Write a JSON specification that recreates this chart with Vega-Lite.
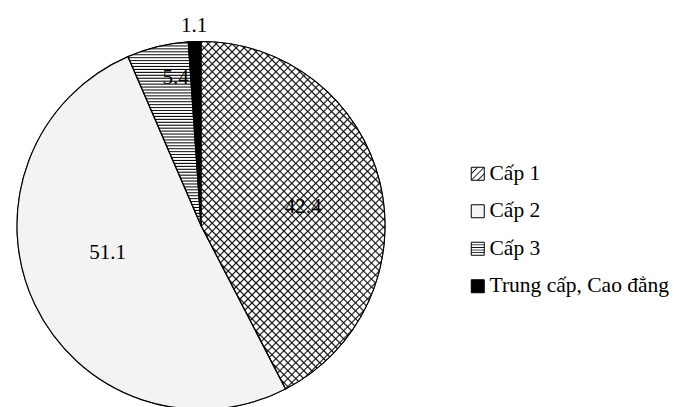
{
  "$schema": "https://vega.github.io/schema/vega-lite/v6.json",
  "width": 402,
  "height": 451,
  "padding": 0,
  "background": "white",
  "config": {"view": {"stroke": null}, "font": "Liberation Serif"},
  "data": {
    "values": [
      {"level": "Cấp 1", "value": 42.4},
      {"level": "Cấp 2", "value": 51.1},
      {"level": "Cấp 3", "value": 5.4},
      {"level": "Trung cấp, Cao đẳng", "value": 1.1}
    ]
  },
  "encoding": {
    "theta": {"field": "value", "type": "quantitative", "stack": true},
    "order": {"field": "level", "type": "nominal", "sort": "ascending"},
    "detail": {"field": "level", "type": "nominal"}
  },
  "layer": [
    {
      "mark": {"type": "arc", "outerRadius": 184, "stroke": "#000", "strokeWidth": 1},
      "encoding": {
        "color": {
          "field": "level",
          "type": "nominal",
          "scale": {
            "domain": ["Cấp 1", "Cấp 2", "Cấp 3", "Trung cấp, Cao đẳng"],
            "range": [
              {"expr": "{gradient: 'linear', x1: 0, y1: 0, x2: 1, y2: 1, stops: [{offset: 0, color: '#fff'}, {offset: 0.2, color: '#fff'}, {offset: 0.25, color: '#222'}, {offset: 0.3, color: '#fff'}, {offset: 0.45, color: '#fff'}, {offset: 0.5, color: '#222'}, {offset: 0.55, color: '#fff'}, {offset: 0.7, color: '#fff'}, {offset: 0.75, color: '#222'}, {offset: 0.8, color: '#fff'}, {offset: 1, color: '#fff'}]}"},
              "#f4f4f4",
              {"expr": "{gradient: 'linear', x1: 0, y1: 0, x2: 0, y2: 1, stops: [{offset: 0, color: '#fff'}, {offset: 0.14, color: '#fff'}, {offset: 0.2, color: '#000'}, {offset: 0.26, color: '#fff'}, {offset: 0.34, color: '#fff'}, {offset: 0.4, color: '#000'}, {offset: 0.46, color: '#fff'}, {offset: 0.54, color: '#fff'}, {offset: 0.6, color: '#000'}, {offset: 0.66, color: '#fff'}, {offset: 0.74, color: '#fff'}, {offset: 0.8, color: '#000'}, {offset: 0.86, color: '#fff'}, {offset: 1, color: '#fff'}]}"},
              "#000"
            ]
          },
          "legend": {
            "title": null,
            "orient": "none",
            "legendX": 467,
            "legendY": 163,
            "padding": 0,
            "symbolType": "square",
            "symbolSize": 169,
            "symbolStrokeColor": "#000",
            "symbolStrokeWidth": 1,
            "labelFont": "Liberation Serif",
            "labelFontSize": 21.5,
            "labelColor": "#000",
            "labelOffset": 1,
            "labelLimit": 0,
            "rowPadding": 14.5
          }
        }
      }
    },
    {
      "mark": {"type": "arc", "outerRadius": 184},
      "encoding": {
        "fill": {
          "condition": [
            {"test": "datum.level === 'Cấp 1'", "value": {"gradient": "linear", "x1": 0, "y1": 0, "x2": 0.633, "y2": 1.194, "stops": [
              {"offset": 0, "color": "#fff"}, {"offset": 0.003, "color": "#111"}, {"offset": 0.006, "color": "#fff"},
              {"offset": 0.015, "color": "#fff"}, {"offset": 0.018, "color": "#111"}, {"offset": 0.021, "color": "#fff"},
              {"offset": 0.03, "color": "#fff"}, {"offset": 0.033, "color": "#111"}, {"offset": 0.036, "color": "#fff"},
              {"offset": 0.045, "color": "#fff"}, {"offset": 0.048, "color": "#111"}, {"offset": 0.051, "color": "#fff"},
              {"offset": 0.06, "color": "#fff"}, {"offset": 0.063, "color": "#111"}, {"offset": 0.066, "color": "#fff"},
              {"offset": 0.075, "color": "#fff"}, {"offset": 0.078, "color": "#111"}, {"offset": 0.081, "color": "#fff"},
              {"offset": 0.09, "color": "#fff"}, {"offset": 0.093, "color": "#111"}, {"offset": 0.096, "color": "#fff"},
              {"offset": 0.105, "color": "#fff"}, {"offset": 0.108, "color": "#111"}, {"offset": 0.111, "color": "#fff"},
              {"offset": 0.12, "color": "#fff"}, {"offset": 0.123, "color": "#111"}, {"offset": 0.126, "color": "#fff"},
              {"offset": 0.135, "color": "#fff"}, {"offset": 0.138, "color": "#111"}, {"offset": 0.141, "color": "#fff"},
              {"offset": 0.15, "color": "#fff"}, {"offset": 0.153, "color": "#111"}, {"offset": 0.156, "color": "#fff"},
              {"offset": 0.165, "color": "#fff"}, {"offset": 0.168, "color": "#111"}, {"offset": 0.171, "color": "#fff"},
              {"offset": 0.18, "color": "#fff"}, {"offset": 0.183, "color": "#111"}, {"offset": 0.186, "color": "#fff"},
              {"offset": 0.195, "color": "#fff"}, {"offset": 0.198, "color": "#111"}, {"offset": 0.201, "color": "#fff"},
              {"offset": 0.21, "color": "#fff"}, {"offset": 0.213, "color": "#111"}, {"offset": 0.216, "color": "#fff"},
              {"offset": 0.225, "color": "#fff"}, {"offset": 0.228, "color": "#111"}, {"offset": 0.231, "color": "#fff"},
              {"offset": 0.24, "color": "#fff"}, {"offset": 0.243, "color": "#111"}, {"offset": 0.246, "color": "#fff"},
              {"offset": 0.255, "color": "#fff"}, {"offset": 0.258, "color": "#111"}, {"offset": 0.261, "color": "#fff"},
              {"offset": 0.27, "color": "#fff"}, {"offset": 0.273, "color": "#111"}, {"offset": 0.276, "color": "#fff"},
              {"offset": 0.285, "color": "#fff"}, {"offset": 0.288, "color": "#111"}, {"offset": 0.291, "color": "#fff"},
              {"offset": 0.3, "color": "#fff"}, {"offset": 0.303, "color": "#111"}, {"offset": 0.306, "color": "#fff"},
              {"offset": 0.315, "color": "#fff"}, {"offset": 0.318, "color": "#111"}, {"offset": 0.321, "color": "#fff"},
              {"offset": 0.33, "color": "#fff"}, {"offset": 0.333, "color": "#111"}, {"offset": 0.336, "color": "#fff"},
              {"offset": 0.345, "color": "#fff"}, {"offset": 0.348, "color": "#111"}, {"offset": 0.351, "color": "#fff"},
              {"offset": 0.36, "color": "#fff"}, {"offset": 0.363, "color": "#111"}, {"offset": 0.366, "color": "#fff"},
              {"offset": 0.375, "color": "#fff"}, {"offset": 0.378, "color": "#111"}, {"offset": 0.381, "color": "#fff"},
              {"offset": 0.39, "color": "#fff"}, {"offset": 0.393, "color": "#111"}, {"offset": 0.396, "color": "#fff"},
              {"offset": 0.405, "color": "#fff"}, {"offset": 0.408, "color": "#111"}, {"offset": 0.411, "color": "#fff"},
              {"offset": 0.42, "color": "#fff"}, {"offset": 0.423, "color": "#111"}, {"offset": 0.426, "color": "#fff"},
              {"offset": 0.435, "color": "#fff"}, {"offset": 0.438, "color": "#111"}, {"offset": 0.441, "color": "#fff"},
              {"offset": 0.45, "color": "#fff"}, {"offset": 0.453, "color": "#111"}, {"offset": 0.456, "color": "#fff"},
              {"offset": 0.465, "color": "#fff"}, {"offset": 0.468, "color": "#111"}, {"offset": 0.471, "color": "#fff"},
              {"offset": 0.48, "color": "#fff"}, {"offset": 0.483, "color": "#111"}, {"offset": 0.486, "color": "#fff"},
              {"offset": 0.495, "color": "#fff"}, {"offset": 0.498, "color": "#111"}, {"offset": 0.501, "color": "#fff"},
              {"offset": 0.51, "color": "#fff"}, {"offset": 0.513, "color": "#111"}, {"offset": 0.516, "color": "#fff"},
              {"offset": 0.525, "color": "#fff"}, {"offset": 0.528, "color": "#111"}, {"offset": 0.531, "color": "#fff"},
              {"offset": 0.54, "color": "#fff"}, {"offset": 0.543, "color": "#111"}, {"offset": 0.546, "color": "#fff"},
              {"offset": 0.555, "color": "#fff"}, {"offset": 0.558, "color": "#111"}, {"offset": 0.561, "color": "#fff"},
              {"offset": 0.57, "color": "#fff"}, {"offset": 0.573, "color": "#111"}, {"offset": 0.576, "color": "#fff"},
              {"offset": 0.585, "color": "#fff"}, {"offset": 0.588, "color": "#111"}, {"offset": 0.591, "color": "#fff"},
              {"offset": 0.6, "color": "#fff"}, {"offset": 0.603, "color": "#111"}, {"offset": 0.606, "color": "#fff"},
              {"offset": 0.615, "color": "#fff"}, {"offset": 0.618, "color": "#111"}, {"offset": 0.621, "color": "#fff"},
              {"offset": 0.63, "color": "#fff"}, {"offset": 0.633, "color": "#111"}, {"offset": 0.636, "color": "#fff"},
              {"offset": 0.645, "color": "#fff"}, {"offset": 0.648, "color": "#111"}, {"offset": 0.651, "color": "#fff"},
              {"offset": 0.66, "color": "#fff"}, {"offset": 0.663, "color": "#111"}, {"offset": 0.666, "color": "#fff"},
              {"offset": 0.675, "color": "#fff"}, {"offset": 0.678, "color": "#111"}, {"offset": 0.681, "color": "#fff"},
              {"offset": 0.69, "color": "#fff"}, {"offset": 0.693, "color": "#111"}, {"offset": 0.696, "color": "#fff"},
              {"offset": 0.705, "color": "#fff"}, {"offset": 0.708, "color": "#111"}, {"offset": 0.711, "color": "#fff"},
              {"offset": 0.72, "color": "#fff"}, {"offset": 0.723, "color": "#111"}, {"offset": 0.726, "color": "#fff"},
              {"offset": 0.735, "color": "#fff"}, {"offset": 0.738, "color": "#111"}, {"offset": 0.741, "color": "#fff"},
              {"offset": 0.75, "color": "#fff"}, {"offset": 0.753, "color": "#111"}, {"offset": 0.756, "color": "#fff"},
              {"offset": 0.765, "color": "#fff"}, {"offset": 0.768, "color": "#111"}, {"offset": 0.771, "color": "#fff"},
              {"offset": 0.78, "color": "#fff"}, {"offset": 0.783, "color": "#111"}, {"offset": 0.786, "color": "#fff"},
              {"offset": 0.795, "color": "#fff"}, {"offset": 0.798, "color": "#111"}, {"offset": 0.801, "color": "#fff"},
              {"offset": 0.81, "color": "#fff"}, {"offset": 0.813, "color": "#111"}, {"offset": 0.816, "color": "#fff"},
              {"offset": 0.825, "color": "#fff"}, {"offset": 0.828, "color": "#111"}, {"offset": 0.831, "color": "#fff"},
              {"offset": 0.84, "color": "#fff"}, {"offset": 0.843, "color": "#111"}, {"offset": 0.846, "color": "#fff"},
              {"offset": 0.855, "color": "#fff"}, {"offset": 0.858, "color": "#111"}, {"offset": 0.861, "color": "#fff"},
              {"offset": 0.87, "color": "#fff"}, {"offset": 0.873, "color": "#111"}, {"offset": 0.876, "color": "#fff"},
              {"offset": 0.885, "color": "#fff"}, {"offset": 0.888, "color": "#111"}, {"offset": 0.891, "color": "#fff"},
              {"offset": 0.9, "color": "#fff"}, {"offset": 0.903, "color": "#111"}, {"offset": 0.906, "color": "#fff"},
              {"offset": 0.915, "color": "#fff"}, {"offset": 0.918, "color": "#111"}, {"offset": 0.921, "color": "#fff"},
              {"offset": 0.93, "color": "#fff"}, {"offset": 0.933, "color": "#111"}, {"offset": 0.936, "color": "#fff"},
              {"offset": 0.945, "color": "#fff"}, {"offset": 0.948, "color": "#111"}, {"offset": 0.951, "color": "#fff"},
              {"offset": 0.96, "color": "#fff"}, {"offset": 0.963, "color": "#111"}, {"offset": 0.966, "color": "#fff"},
              {"offset": 0.975, "color": "#fff"}, {"offset": 0.978, "color": "#111"}, {"offset": 0.981, "color": "#fff"},
              {"offset": 0.99, "color": "#fff"}, {"offset": 0.993, "color": "#111"}, {"offset": 0.996, "color": "#fff"},
              {"offset": 1, "color": "#fff"}
            ]}},
            {"test": "datum.level === 'Cấp 2'", "value": "#f3f3f3"},
            {"test": "datum.level === 'Cấp 3'", "value": {"gradient": "linear", "x1": 0, "y1": 0, "x2": 0, "y2": 1, "stops": [
              {"offset": 0, "color": "#fff"}, {"offset": 0.006, "color": "#000"}, {"offset": 0.011, "color": "#fff"},
              {"offset": 0.016, "color": "#fff"}, {"offset": 0.022, "color": "#000"}, {"offset": 0.027, "color": "#fff"},
              {"offset": 0.032, "color": "#fff"}, {"offset": 0.038, "color": "#000"}, {"offset": 0.043, "color": "#fff"},
              {"offset": 0.048, "color": "#fff"}, {"offset": 0.054, "color": "#000"}, {"offset": 0.059, "color": "#fff"},
              {"offset": 0.064, "color": "#fff"}, {"offset": 0.07, "color": "#000"}, {"offset": 0.075, "color": "#fff"},
              {"offset": 0.08, "color": "#fff"}, {"offset": 0.086, "color": "#000"}, {"offset": 0.091, "color": "#fff"},
              {"offset": 0.096, "color": "#fff"}, {"offset": 0.102, "color": "#000"}, {"offset": 0.107, "color": "#fff"},
              {"offset": 0.112, "color": "#fff"}, {"offset": 0.118, "color": "#000"}, {"offset": 0.123, "color": "#fff"},
              {"offset": 0.128, "color": "#fff"}, {"offset": 0.134, "color": "#000"}, {"offset": 0.139, "color": "#fff"},
              {"offset": 0.144, "color": "#fff"}, {"offset": 0.15, "color": "#000"}, {"offset": 0.155, "color": "#fff"},
              {"offset": 0.16, "color": "#fff"}, {"offset": 0.166, "color": "#000"}, {"offset": 0.171, "color": "#fff"},
              {"offset": 0.176, "color": "#fff"}, {"offset": 0.182, "color": "#000"}, {"offset": 0.187, "color": "#fff"},
              {"offset": 0.192, "color": "#fff"}, {"offset": 0.198, "color": "#000"}, {"offset": 0.203, "color": "#fff"},
              {"offset": 0.208, "color": "#fff"}, {"offset": 0.214, "color": "#000"}, {"offset": 0.219, "color": "#fff"},
              {"offset": 0.224, "color": "#fff"}, {"offset": 0.23, "color": "#000"}, {"offset": 0.235, "color": "#fff"},
              {"offset": 0.24, "color": "#fff"}, {"offset": 0.246, "color": "#000"}, {"offset": 0.251, "color": "#fff"},
              {"offset": 0.256, "color": "#fff"}, {"offset": 0.262, "color": "#000"}, {"offset": 0.267, "color": "#fff"},
              {"offset": 0.272, "color": "#fff"}, {"offset": 0.278, "color": "#000"}, {"offset": 0.283, "color": "#fff"},
              {"offset": 0.288, "color": "#fff"}, {"offset": 0.294, "color": "#000"}, {"offset": 0.299, "color": "#fff"},
              {"offset": 0.304, "color": "#fff"}, {"offset": 0.31, "color": "#000"}, {"offset": 0.315, "color": "#fff"},
              {"offset": 0.32, "color": "#fff"}, {"offset": 0.326, "color": "#000"}, {"offset": 0.331, "color": "#fff"},
              {"offset": 0.336, "color": "#fff"}, {"offset": 0.342, "color": "#000"}, {"offset": 0.347, "color": "#fff"},
              {"offset": 0.352, "color": "#fff"}, {"offset": 0.358, "color": "#000"}, {"offset": 0.363, "color": "#fff"},
              {"offset": 0.368, "color": "#fff"}, {"offset": 0.374, "color": "#000"}, {"offset": 0.379, "color": "#fff"},
              {"offset": 0.384, "color": "#fff"}, {"offset": 0.39, "color": "#000"}, {"offset": 0.395, "color": "#fff"},
              {"offset": 0.4, "color": "#fff"}, {"offset": 0.406, "color": "#000"}, {"offset": 0.411, "color": "#fff"},
              {"offset": 0.416, "color": "#fff"}, {"offset": 0.422, "color": "#000"}, {"offset": 0.427, "color": "#fff"},
              {"offset": 0.432, "color": "#fff"}, {"offset": 0.438, "color": "#000"}, {"offset": 0.443, "color": "#fff"},
              {"offset": 0.448, "color": "#fff"}, {"offset": 0.454, "color": "#000"}, {"offset": 0.459, "color": "#fff"},
              {"offset": 0.464, "color": "#fff"}, {"offset": 0.47, "color": "#000"}, {"offset": 0.475, "color": "#fff"},
              {"offset": 0.48, "color": "#fff"}, {"offset": 0.486, "color": "#000"}, {"offset": 0.491, "color": "#fff"},
              {"offset": 0.496, "color": "#fff"}, {"offset": 0.502, "color": "#000"}, {"offset": 0.507, "color": "#fff"},
              {"offset": 0.512, "color": "#fff"}, {"offset": 0.518, "color": "#000"}, {"offset": 0.523, "color": "#fff"},
              {"offset": 0.528, "color": "#fff"}, {"offset": 0.534, "color": "#000"}, {"offset": 0.539, "color": "#fff"},
              {"offset": 0.544, "color": "#fff"}, {"offset": 0.55, "color": "#000"}, {"offset": 0.555, "color": "#fff"},
              {"offset": 0.56, "color": "#fff"}, {"offset": 0.566, "color": "#000"}, {"offset": 0.571, "color": "#fff"},
              {"offset": 0.576, "color": "#fff"}, {"offset": 0.582, "color": "#000"}, {"offset": 0.587, "color": "#fff"},
              {"offset": 0.592, "color": "#fff"}, {"offset": 0.598, "color": "#000"}, {"offset": 0.603, "color": "#fff"},
              {"offset": 0.608, "color": "#fff"}, {"offset": 0.614, "color": "#000"}, {"offset": 0.619, "color": "#fff"},
              {"offset": 0.624, "color": "#fff"}, {"offset": 0.63, "color": "#000"}, {"offset": 0.635, "color": "#fff"},
              {"offset": 0.64, "color": "#fff"}, {"offset": 0.646, "color": "#000"}, {"offset": 0.651, "color": "#fff"},
              {"offset": 0.656, "color": "#fff"}, {"offset": 0.662, "color": "#000"}, {"offset": 0.667, "color": "#fff"},
              {"offset": 0.672, "color": "#fff"}, {"offset": 0.678, "color": "#000"}, {"offset": 0.683, "color": "#fff"},
              {"offset": 0.688, "color": "#fff"}, {"offset": 0.694, "color": "#000"}, {"offset": 0.699, "color": "#fff"},
              {"offset": 0.704, "color": "#fff"}, {"offset": 0.71, "color": "#000"}, {"offset": 0.715, "color": "#fff"},
              {"offset": 0.72, "color": "#fff"}, {"offset": 0.726, "color": "#000"}, {"offset": 0.731, "color": "#fff"},
              {"offset": 0.736, "color": "#fff"}, {"offset": 0.742, "color": "#000"}, {"offset": 0.747, "color": "#fff"},
              {"offset": 0.752, "color": "#fff"}, {"offset": 0.758, "color": "#000"}, {"offset": 0.763, "color": "#fff"},
              {"offset": 0.768, "color": "#fff"}, {"offset": 0.774, "color": "#000"}, {"offset": 0.779, "color": "#fff"},
              {"offset": 0.784, "color": "#fff"}, {"offset": 0.79, "color": "#000"}, {"offset": 0.795, "color": "#fff"},
              {"offset": 0.8, "color": "#fff"}, {"offset": 0.806, "color": "#000"}, {"offset": 0.811, "color": "#fff"},
              {"offset": 0.816, "color": "#fff"}, {"offset": 0.822, "color": "#000"}, {"offset": 0.827, "color": "#fff"},
              {"offset": 0.832, "color": "#fff"}, {"offset": 0.838, "color": "#000"}, {"offset": 0.843, "color": "#fff"},
              {"offset": 0.848, "color": "#fff"}, {"offset": 0.854, "color": "#000"}, {"offset": 0.859, "color": "#fff"},
              {"offset": 0.864, "color": "#fff"}, {"offset": 0.87, "color": "#000"}, {"offset": 0.875, "color": "#fff"},
              {"offset": 0.88, "color": "#fff"}, {"offset": 0.886, "color": "#000"}, {"offset": 0.891, "color": "#fff"},
              {"offset": 0.896, "color": "#fff"}, {"offset": 0.902, "color": "#000"}, {"offset": 0.907, "color": "#fff"},
              {"offset": 0.912, "color": "#fff"}, {"offset": 0.918, "color": "#000"}, {"offset": 0.923, "color": "#fff"},
              {"offset": 0.928, "color": "#fff"}, {"offset": 0.934, "color": "#000"}, {"offset": 0.939, "color": "#fff"},
              {"offset": 0.944, "color": "#fff"}, {"offset": 0.95, "color": "#000"}, {"offset": 0.955, "color": "#fff"},
              {"offset": 0.96, "color": "#fff"}, {"offset": 0.966, "color": "#000"}, {"offset": 0.971, "color": "#fff"},
              {"offset": 0.976, "color": "#fff"}, {"offset": 0.982, "color": "#000"}, {"offset": 0.987, "color": "#fff"},
              {"offset": 0.992, "color": "#fff"}, {"offset": 0.998, "color": "#000"}, {"offset": 1, "color": "#fff"}
            ]}},
            {"test": "datum.level === 'Trung cấp, Cao đẳng'", "value": "#000"}
          ],
          "value": null
        }
      }
    },
    {
      "mark": {"type": "arc", "outerRadius": 184},
      "encoding": {
        "fill": {
          "condition": {"test": "datum.level === 'Cấp 1'", "value": {"gradient": "linear", "x1": 0, "y1": 1, "x2": 0.633, "y2": -0.194, "stops": [
            {"offset": 0, "color": "transparent"}, {"offset": 0.003, "color": "#111"}, {"offset": 0.006, "color": "transparent"},
            {"offset": 0.015, "color": "transparent"}, {"offset": 0.018, "color": "#111"}, {"offset": 0.021, "color": "transparent"},
            {"offset": 0.03, "color": "transparent"}, {"offset": 0.033, "color": "#111"}, {"offset": 0.036, "color": "transparent"},
            {"offset": 0.045, "color": "transparent"}, {"offset": 0.048, "color": "#111"}, {"offset": 0.051, "color": "transparent"},
            {"offset": 0.06, "color": "transparent"}, {"offset": 0.063, "color": "#111"}, {"offset": 0.066, "color": "transparent"},
            {"offset": 0.075, "color": "transparent"}, {"offset": 0.078, "color": "#111"}, {"offset": 0.081, "color": "transparent"},
            {"offset": 0.09, "color": "transparent"}, {"offset": 0.093, "color": "#111"}, {"offset": 0.096, "color": "transparent"},
            {"offset": 0.105, "color": "transparent"}, {"offset": 0.108, "color": "#111"}, {"offset": 0.111, "color": "transparent"},
            {"offset": 0.12, "color": "transparent"}, {"offset": 0.123, "color": "#111"}, {"offset": 0.126, "color": "transparent"},
            {"offset": 0.135, "color": "transparent"}, {"offset": 0.138, "color": "#111"}, {"offset": 0.141, "color": "transparent"},
            {"offset": 0.15, "color": "transparent"}, {"offset": 0.153, "color": "#111"}, {"offset": 0.156, "color": "transparent"},
            {"offset": 0.165, "color": "transparent"}, {"offset": 0.168, "color": "#111"}, {"offset": 0.171, "color": "transparent"},
            {"offset": 0.18, "color": "transparent"}, {"offset": 0.183, "color": "#111"}, {"offset": 0.186, "color": "transparent"},
            {"offset": 0.195, "color": "transparent"}, {"offset": 0.198, "color": "#111"}, {"offset": 0.201, "color": "transparent"},
            {"offset": 0.21, "color": "transparent"}, {"offset": 0.213, "color": "#111"}, {"offset": 0.216, "color": "transparent"},
            {"offset": 0.225, "color": "transparent"}, {"offset": 0.228, "color": "#111"}, {"offset": 0.231, "color": "transparent"},
            {"offset": 0.24, "color": "transparent"}, {"offset": 0.243, "color": "#111"}, {"offset": 0.246, "color": "transparent"},
            {"offset": 0.255, "color": "transparent"}, {"offset": 0.258, "color": "#111"}, {"offset": 0.261, "color": "transparent"},
            {"offset": 0.27, "color": "transparent"}, {"offset": 0.273, "color": "#111"}, {"offset": 0.276, "color": "transparent"},
            {"offset": 0.285, "color": "transparent"}, {"offset": 0.288, "color": "#111"}, {"offset": 0.291, "color": "transparent"},
            {"offset": 0.3, "color": "transparent"}, {"offset": 0.303, "color": "#111"}, {"offset": 0.306, "color": "transparent"},
            {"offset": 0.315, "color": "transparent"}, {"offset": 0.318, "color": "#111"}, {"offset": 0.321, "color": "transparent"},
            {"offset": 0.33, "color": "transparent"}, {"offset": 0.333, "color": "#111"}, {"offset": 0.336, "color": "transparent"},
            {"offset": 0.345, "color": "transparent"}, {"offset": 0.348, "color": "#111"}, {"offset": 0.351, "color": "transparent"},
            {"offset": 0.36, "color": "transparent"}, {"offset": 0.363, "color": "#111"}, {"offset": 0.366, "color": "transparent"},
            {"offset": 0.375, "color": "transparent"}, {"offset": 0.378, "color": "#111"}, {"offset": 0.381, "color": "transparent"},
            {"offset": 0.39, "color": "transparent"}, {"offset": 0.393, "color": "#111"}, {"offset": 0.396, "color": "transparent"},
            {"offset": 0.405, "color": "transparent"}, {"offset": 0.408, "color": "#111"}, {"offset": 0.411, "color": "transparent"},
            {"offset": 0.42, "color": "transparent"}, {"offset": 0.423, "color": "#111"}, {"offset": 0.426, "color": "transparent"},
            {"offset": 0.435, "color": "transparent"}, {"offset": 0.438, "color": "#111"}, {"offset": 0.441, "color": "transparent"},
            {"offset": 0.45, "color": "transparent"}, {"offset": 0.453, "color": "#111"}, {"offset": 0.456, "color": "transparent"},
            {"offset": 0.465, "color": "transparent"}, {"offset": 0.468, "color": "#111"}, {"offset": 0.471, "color": "transparent"},
            {"offset": 0.48, "color": "transparent"}, {"offset": 0.483, "color": "#111"}, {"offset": 0.486, "color": "transparent"},
            {"offset": 0.495, "color": "transparent"}, {"offset": 0.498, "color": "#111"}, {"offset": 0.501, "color": "transparent"},
            {"offset": 0.51, "color": "transparent"}, {"offset": 0.513, "color": "#111"}, {"offset": 0.516, "color": "transparent"},
            {"offset": 0.525, "color": "transparent"}, {"offset": 0.528, "color": "#111"}, {"offset": 0.531, "color": "transparent"},
            {"offset": 0.54, "color": "transparent"}, {"offset": 0.543, "color": "#111"}, {"offset": 0.546, "color": "transparent"},
            {"offset": 0.555, "color": "transparent"}, {"offset": 0.558, "color": "#111"}, {"offset": 0.561, "color": "transparent"},
            {"offset": 0.57, "color": "transparent"}, {"offset": 0.573, "color": "#111"}, {"offset": 0.576, "color": "transparent"},
            {"offset": 0.585, "color": "transparent"}, {"offset": 0.588, "color": "#111"}, {"offset": 0.591, "color": "transparent"},
            {"offset": 0.6, "color": "transparent"}, {"offset": 0.603, "color": "#111"}, {"offset": 0.606, "color": "transparent"},
            {"offset": 0.615, "color": "transparent"}, {"offset": 0.618, "color": "#111"}, {"offset": 0.621, "color": "transparent"},
            {"offset": 0.63, "color": "transparent"}, {"offset": 0.633, "color": "#111"}, {"offset": 0.636, "color": "transparent"},
            {"offset": 0.645, "color": "transparent"}, {"offset": 0.648, "color": "#111"}, {"offset": 0.651, "color": "transparent"},
            {"offset": 0.66, "color": "transparent"}, {"offset": 0.663, "color": "#111"}, {"offset": 0.666, "color": "transparent"},
            {"offset": 0.675, "color": "transparent"}, {"offset": 0.678, "color": "#111"}, {"offset": 0.681, "color": "transparent"},
            {"offset": 0.69, "color": "transparent"}, {"offset": 0.693, "color": "#111"}, {"offset": 0.696, "color": "transparent"},
            {"offset": 0.705, "color": "transparent"}, {"offset": 0.708, "color": "#111"}, {"offset": 0.711, "color": "transparent"},
            {"offset": 0.72, "color": "transparent"}, {"offset": 0.723, "color": "#111"}, {"offset": 0.726, "color": "transparent"},
            {"offset": 0.735, "color": "transparent"}, {"offset": 0.738, "color": "#111"}, {"offset": 0.741, "color": "transparent"},
            {"offset": 0.75, "color": "transparent"}, {"offset": 0.753, "color": "#111"}, {"offset": 0.756, "color": "transparent"},
            {"offset": 0.765, "color": "transparent"}, {"offset": 0.768, "color": "#111"}, {"offset": 0.771, "color": "transparent"},
            {"offset": 0.78, "color": "transparent"}, {"offset": 0.783, "color": "#111"}, {"offset": 0.786, "color": "transparent"},
            {"offset": 0.795, "color": "transparent"}, {"offset": 0.798, "color": "#111"}, {"offset": 0.801, "color": "transparent"},
            {"offset": 0.81, "color": "transparent"}, {"offset": 0.813, "color": "#111"}, {"offset": 0.816, "color": "transparent"},
            {"offset": 0.825, "color": "transparent"}, {"offset": 0.828, "color": "#111"}, {"offset": 0.831, "color": "transparent"},
            {"offset": 0.84, "color": "transparent"}, {"offset": 0.843, "color": "#111"}, {"offset": 0.846, "color": "transparent"},
            {"offset": 0.855, "color": "transparent"}, {"offset": 0.858, "color": "#111"}, {"offset": 0.861, "color": "transparent"},
            {"offset": 0.87, "color": "transparent"}, {"offset": 0.873, "color": "#111"}, {"offset": 0.876, "color": "transparent"},
            {"offset": 0.885, "color": "transparent"}, {"offset": 0.888, "color": "#111"}, {"offset": 0.891, "color": "transparent"},
            {"offset": 0.9, "color": "transparent"}, {"offset": 0.903, "color": "#111"}, {"offset": 0.906, "color": "transparent"},
            {"offset": 0.915, "color": "transparent"}, {"offset": 0.918, "color": "#111"}, {"offset": 0.921, "color": "transparent"},
            {"offset": 0.93, "color": "transparent"}, {"offset": 0.933, "color": "#111"}, {"offset": 0.936, "color": "transparent"},
            {"offset": 0.945, "color": "transparent"}, {"offset": 0.948, "color": "#111"}, {"offset": 0.951, "color": "transparent"},
            {"offset": 0.96, "color": "transparent"}, {"offset": 0.963, "color": "#111"}, {"offset": 0.966, "color": "transparent"},
            {"offset": 0.975, "color": "transparent"}, {"offset": 0.978, "color": "#111"}, {"offset": 0.981, "color": "transparent"},
            {"offset": 0.99, "color": "transparent"}, {"offset": 0.993, "color": "#111"}, {"offset": 0.996, "color": "transparent"},
            {"offset": 1, "color": "transparent"}
          ]}},
          "value": null
        }
      }
    },
    {
      "mark": {"type": "arc", "outerRadius": 184, "fill": null, "stroke": "#000", "strokeWidth": 1.2},
      "encoding": {}
    },
    {
      "mark": {"type": "text", "radius": 105, "dy": 6, "fontSize": 21, "font": "Liberation Serif", "color": "#000", "align": "center", "baseline": "middle"},
      "encoding": {"text": {"condition": {"test": "datum.level === 'Cấp 1'", "field": "value", "type": "quantitative"}, "value": ""}}
    },
    {
      "mark": {"type": "text", "radius": 100, "dx": -3, "dy": -15, "fontSize": 21, "font": "Liberation Serif", "color": "#000", "align": "center", "baseline": "middle"},
      "encoding": {"text": {"condition": {"test": "datum.level === 'Cấp 2'", "field": "value", "type": "quantitative"}, "value": ""}}
    },
    {
      "mark": {"type": "text", "radius": 150, "dx": 10, "dy": -2, "fontSize": 21, "font": "Liberation Serif", "color": "#000", "align": "center", "baseline": "middle"},
      "encoding": {"text": {"condition": {"test": "datum.level === 'Cấp 3'", "field": "value", "type": "quantitative"}, "value": ""}}
    },
    {
      "mark": {"type": "text", "radius": 200, "fontSize": 21, "font": "Liberation Serif", "color": "#000", "align": "center", "baseline": "middle"},
      "encoding": {"text": {"condition": {"test": "datum.level === 'Trung cấp, Cao đẳng'", "field": "value", "type": "quantitative"}, "value": ""}}
    }
  ]
}
